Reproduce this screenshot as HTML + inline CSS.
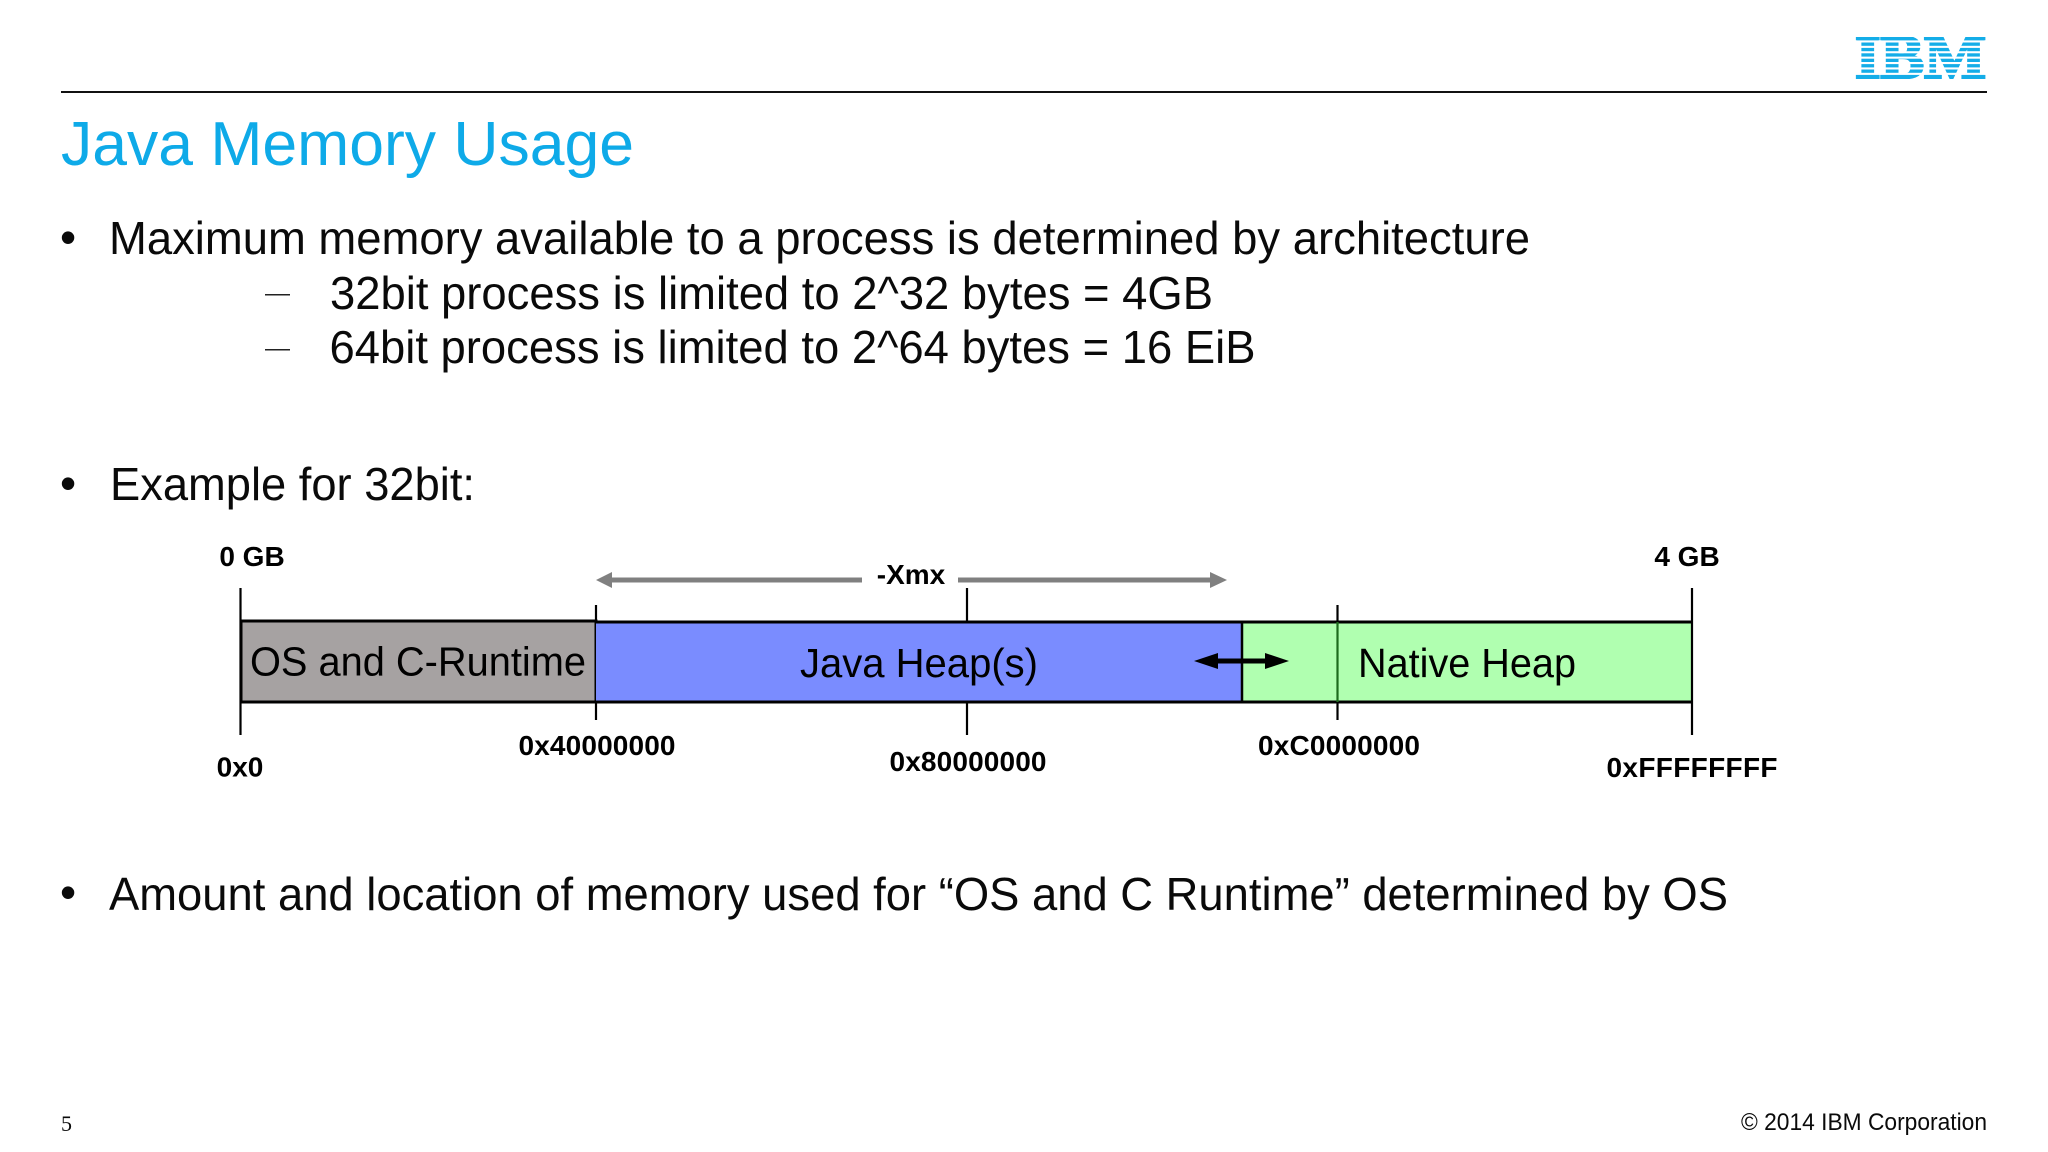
<!DOCTYPE html>
<html><head><meta charset="utf-8"><style>
html,body{margin:0;padding:0;background:#fff;width:2048px;height:1152px;overflow:hidden}
svg{display:block}
text{font-family:"Liberation Sans",sans-serif;fill:#0a0a0a}
.b{font-size:46px}
.l{font-size:28px;font-weight:bold;text-anchor:middle;fill:#000}
.d{font-size:41px;fill:#000}
</style></head><body>
<svg width="2048" height="1152" viewBox="0 0 2048 1152" xmlns="http://www.w3.org/2000/svg">
<rect width="2048" height="1152" fill="#fff"/>
<!-- logo -->
<text x="1855" y="78" textLength="131" lengthAdjust="spacingAndGlyphs" style="font-family:'Liberation Serif',serif;font-size:62px;font-weight:bold;fill:#14ade8;stroke:#14ade8;stroke-width:2.5">IBM</text>
<g fill="#fff">
<rect x="1850" y="30" width="142" height="7"/>
<rect x="1850" y="40.4" width="142" height="2.1"/><rect x="1850" y="45.8" width="142" height="2.1"/><rect x="1850" y="51.2" width="142" height="2.1"/><rect x="1850" y="56.6" width="142" height="2.1"/><rect x="1850" y="62" width="142" height="2.1"/><rect x="1850" y="67.4" width="142" height="2.1"/><rect x="1850" y="72.8" width="142" height="2.1"/>
<rect x="1850" y="79" width="142" height="6"/>
</g>
<rect x="61" y="91" width="1926" height="2" fill="#111"/>
<text x="61" y="165" textLength="573" lengthAdjust="spacingAndGlyphs" style="font-size:62px;fill:#0eaae8">Java Memory Usage</text>
<!-- bullets -->
<text x="60" y="253" class="b">•</text>
<text x="109" y="254" class="b" textLength="1421" lengthAdjust="spacingAndGlyphs">Maximum memory available to a process is determined by architecture</text>
<rect x="265" y="294" width="25" height="1.5" fill="#222"/>
<text x="330" y="309" class="b" textLength="883" lengthAdjust="spacingAndGlyphs">32bit process is limited to 2^32 bytes = 4GB</text>
<rect x="265" y="349" width="25" height="1.5" fill="#222"/>
<text x="329.5" y="363" class="b" textLength="926" lengthAdjust="spacingAndGlyphs">64bit process is limited to 2^64 bytes = 16 EiB</text>
<text x="60" y="499" class="b">•</text>
<text x="110" y="500" class="b" textLength="365" lengthAdjust="spacingAndGlyphs">Example for 32bit:</text>
<text x="60" y="908" class="b">•</text>
<text x="109" y="910" class="b" textLength="1619" lengthAdjust="spacingAndGlyphs">Amount and location of memory used for “OS and C Runtime” determined by OS</text>
<!-- diagram -->
<rect x="241" y="621" width="355" height="81" fill="#a6a2a2" stroke="#000" stroke-width="3"/>
<rect x="596" y="622" width="646" height="80" fill="#7a8cff"/>
<rect x="1242" y="622" width="450" height="80" fill="#b0ffb0"/>
<path d="M596 622H1692M596 702H1692" stroke="#000" stroke-width="3" fill="none"/>
<path d="M1242 622V703" stroke="#000" stroke-width="2.5"/>
<path d="M1337.5 622V702" stroke="#1d6b1d" stroke-width="2.2"/>
<g stroke="#000" stroke-width="2.2" fill="none">
<path d="M240.5 588V735"/><path d="M596 605V620M596 702V720"/><path d="M967 588V621M967 703V735"/><path d="M1337.5 605V622M1337.5 702V720"/><path d="M1692 588V735"/>
</g>
<!-- xmx arrows -->
<path d="M862 580H612" stroke="#808080" stroke-width="5"/>
<path d="M596 580L612 572V588Z" fill="#808080"/>
<path d="M958 580H1212" stroke="#808080" stroke-width="5"/>
<path d="M1227 580L1210 572V588Z" fill="#808080"/>
<!-- resize arrow -->
<path d="M1210 661H1272" stroke="#000" stroke-width="5"/>
<path d="M1194 661L1218 653V669Z" fill="#000"/>
<path d="M1289 661L1265 653V669Z" fill="#000"/>
<!-- labels -->
<text x="250" y="675.5" class="d" textLength="336" lengthAdjust="spacingAndGlyphs">OS and C-Runtime</text>
<text x="800" y="677" class="d" textLength="238" lengthAdjust="spacingAndGlyphs">Java Heap(s)</text>
<text x="1358" y="677" class="d" textLength="218" lengthAdjust="spacingAndGlyphs">Native Heap</text>
<text x="252" y="566" class="l">0 GB</text>
<text x="1687" y="566" class="l">4 GB</text>
<text x="911" y="584" class="l">-Xmx</text>
<text x="240" y="776.5" class="l">0x0</text>
<text x="597" y="755" class="l" textLength="157">0x40000000</text>
<text x="968" y="771" class="l" textLength="157">0x80000000</text>
<text x="1339" y="755" class="l" textLength="162">0xC0000000</text>
<text x="1692" y="777" class="l" textLength="171">0xFFFFFFFF</text>
<!-- footer -->
<text x="61" y="1131" style="font-family:'Liberation Serif',serif;font-size:22px">5</text>
<text x="1987" y="1130" text-anchor="end" textLength="246" lengthAdjust="spacingAndGlyphs" style="font-size:24px">© 2014 IBM Corporation</text>
</svg>
</body></html>
